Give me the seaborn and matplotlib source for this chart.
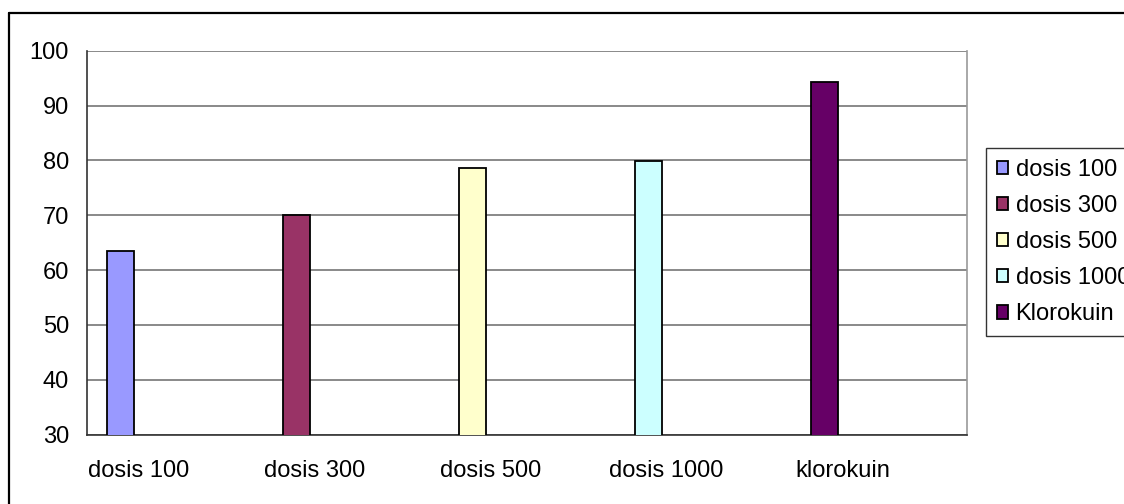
import numpy as np
import pandas as pd
import matplotlib
matplotlib.use("Agg")
import matplotlib.pyplot as plt
import seaborn as sns
from matplotlib.lines import Line2D

categories = ["dosis 100", "dosis 300", "dosis 500", "dosis 1000", "klorokuin"]
series = ["dosis 100", "dosis 300", "dosis 500", "dosis 1000", "Klorokuin"]
values = [63.5, 70.0, 78.6, 79.9, 94.3]
colors = ["#9999FF", "#993366", "#FFFFCC", "#CCFFFF", "#660066"]
yticks = [30, 40, 50, 60, 70, 80, 90, 100]

# excel style clustered layout: 5 slots + 150% gap per category, bar sits in first slot
n_slots = 5
gap = 1.5
bar_w = 1 / (n_slots + gap)
offset = -0.5 + (gap / 2 + 0.5) * bar_w
label_offset = -0.205  # category labels sit a bit left of the group centre

df = pd.DataFrame({
    "pos": np.arange(len(categories)) + offset,
    "value": values,
    "series": series,
})

sns.set_style("white")
plt.rcParams["font.family"] = ["Liberation Sans", "DejaVu Sans"]
plt.rcParams["text.color"] = "black"
plt.rcParams["xtick.color"] = "black"
plt.rcParams["ytick.color"] = "black"

fig = plt.figure(figsize=(11.24, 5.04), dpi=100)
ax = fig.add_axes([0.0774, 0.1375, 0.7826, 0.762])
sns.barplot(data=df, x="pos", y="value", hue="series", palette=colors,
            saturation=1, native_scale=True, width=bar_w, dodge=False,
            edgecolor="black", linewidth=1.3, ax=ax, zorder=3)
ax.set_axisbelow(True)

ax.set_ylim(30, 100)
ax.set_yticks(yticks)
ax.yaxis.grid(True, color="#808080", linewidth=1.3)
ax.set_xlim(-0.5, len(categories) - 0.5)
ax.set_xticks(np.arange(-0.5, len(categories), 1))
ax.set_xticklabels([])
ax.set_xticks(np.arange(len(categories)) + label_offset, minor=True)
ax.set_xticklabels(categories, minor=True)
ax.tick_params(axis="x", which="major", length=6, width=1, color="#333333", direction="out")
ax.tick_params(axis="x", which="minor", length=0, pad=18, labelsize=17, labelcolor="black")
ax.tick_params(axis="y", length=6, width=1, color="#333333", direction="out", pad=7,
               labelsize=17, labelcolor="black")
ax.set_xlabel("")
ax.set_ylabel("")

ax.spines["top"].set_visible(False)
ax.spines["right"].set_color("#999999")
ax.spines["left"].set_color("#333333")
ax.spines["bottom"].set_color("#333333")
for s in ["left", "bottom", "right"]:
    ax.spines[s].set_linewidth(1.2)

sns.move_legend(ax, "upper left", bbox_to_anchor=(986 / 1124, 1 - 148 / 504),
                bbox_transform=fig.transFigure, title=None, frameon=True,
                fontsize=17, handlelength=0.5, handleheight=0.5,
                handletextpad=0.3, labelspacing=0.6, borderpad=0.45,
                fancybox=False, borderaxespad=0)
leg = ax.get_legend()
leg.get_frame().set_edgecolor("black")
leg.get_frame().set_linewidth(1)
for t in leg.get_texts():
    t.set_color("black")

# outer chart border (left and top visible)
fig.add_artist(Line2D([9 / 1124, 9 / 1124], [0, 1 - 13 / 504], transform=fig.transFigure,
                      color="black", linewidth=1.6))
fig.add_artist(Line2D([9 / 1124, 1], [1 - 13 / 504, 1 - 13 / 504], transform=fig.transFigure,
                      color="black", linewidth=1.6))

fig.savefig("out.png", dpi=100)
